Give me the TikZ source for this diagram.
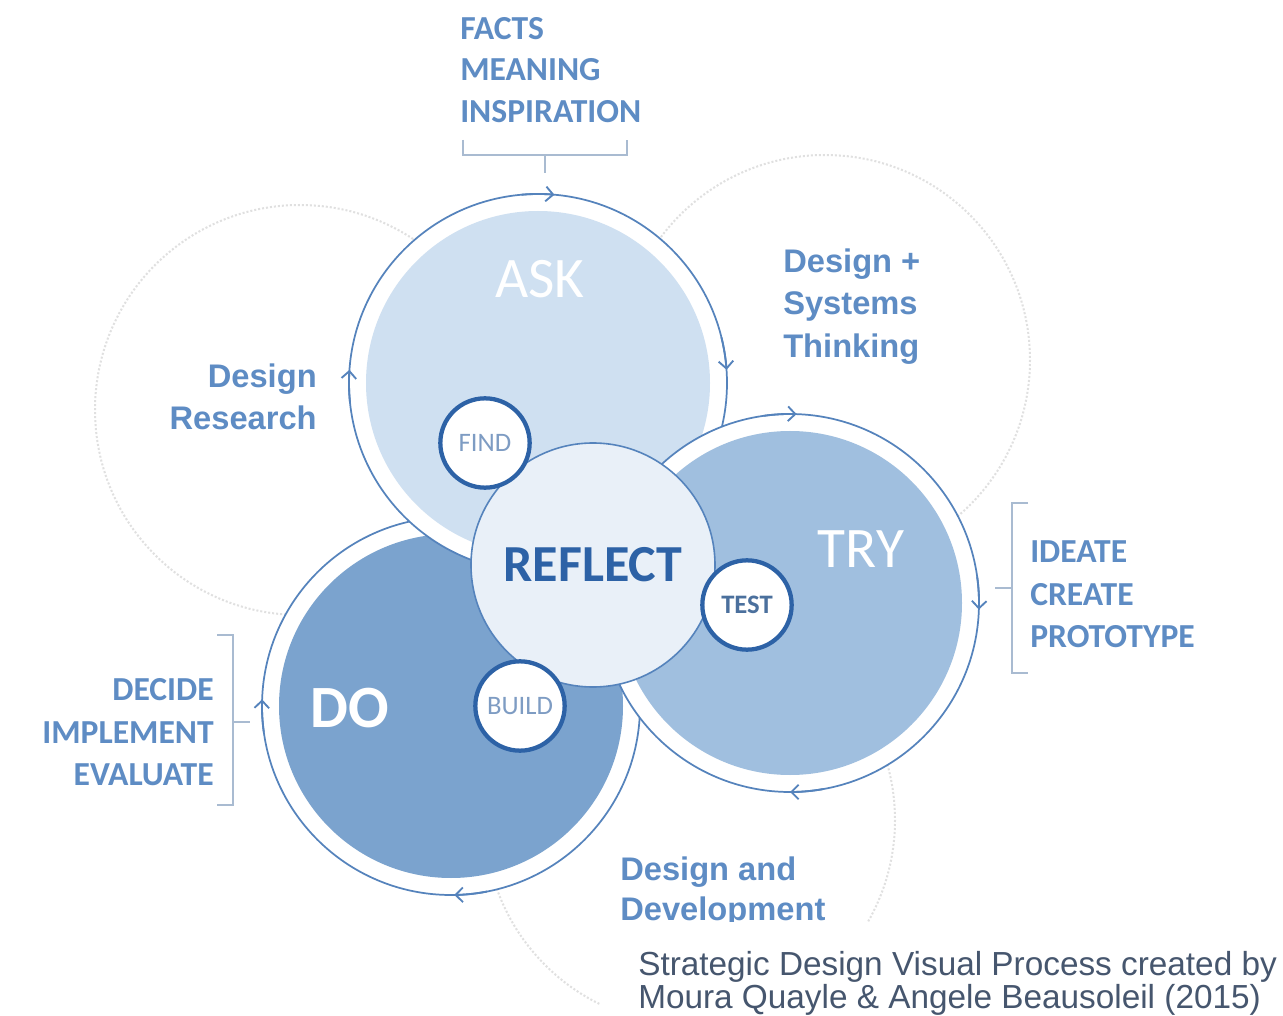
\documentclass[tikz,border=0pt]{standalone}
\usepackage{fontspec}
\setmainfont{Carlito}
\newfontfamily\arialf{Liberation Sans}
\usetikzlibrary{arrows.meta}
\definecolor{askc}{HTML}{CFE0F1}
\definecolor{tryc}{HTML}{A0BFDF}
\definecolor{doc}{HTML}{7BA3CE}
\definecolor{refc}{HTML}{E9F0F8}
\definecolor{ringc}{HTML}{5583BC}
\definecolor{labc}{HTML}{5E8CC4}
\definecolor{brac}{HTML}{A9BBD1}
\definecolor{darkb}{HTML}{2D62A6}
\definecolor{smallt}{HTML}{7E9CC3}
\definecolor{faintg}{HTML}{E0E0E0}
\definecolor{capc}{HTML}{46566E}
\begin{document}
\begin{tikzpicture}[x=0.75pt,y=-0.75pt,
  faintc/.style={draw=faintg, line width=1.5pt, dash pattern=on 1.5pt off 1.5pt},
  ring/.style={draw=ringc, line width=1.3pt},
  arr/.style={ringc, line width=1.4pt, -{Straight Barb[length=5.5pt,width=11pt]}},
  halo/.style={fill=white},
  smallc/.style={circle, draw=darkb, line width=3.2pt, fill=white, minimum size=67pt, inner sep=0pt, text=smallt, font=\fontsize{20}{20}\selectfont},
  refl/.style={circle, draw=ringc, line width=1.2pt, fill=refc, minimum size=183pt, inner sep=0pt, text=darkb, font=\bfseries\fontsize{39}{39}\selectfont},
  big/.style={text=white, inner sep=0pt, font=\fontsize{43}{43}\selectfont},
  lab/.style={text=labc, inner sep=0pt, font=\bfseries\fontsize{25.2}{25.2}\selectfont},
  dlab/.style={text=labc, inner sep=0pt, font=\arialf\bfseries\fontsize{24.5}{24.5}\selectfont},
  captxt/.style={text=capc, inner sep=0pt, font=\arialf\fontsize{25}{25}\selectfont},
  brk/.style={draw=brac, line width=1.5pt}]
\useasboundingbox (0,0) rectangle (1283,1016);
\fill[white] (0,0) rectangle (1283,1016);
% faint background circles
\draw[faintc] (300,410) circle[radius=205];
\draw[faintc] (825,360) circle[radius=205];
\draw[faintc] (690,820) circle[radius=205];
% DO
\fill[halo] (451,706) circle[radius=189];
\fill[doc] (451,706) circle[radius=172];
\draw[ring] (451,706) circle[radius=189];
\draw[arr] ([shift={(79:189)}]451,706) arc[start angle=79, end angle=89, radius=189];
\draw[arr] ([shift={(172:189)}]451,706) arc[start angle=172, end angle=182, radius=189];
% ASK
\fill[halo] (538,383) circle[radius=189];
\fill[askc] (538,383) circle[radius=172];
\draw[ring] (538,383) circle[radius=189];
\draw[arr] ([shift={(-95:189)}]538,383) arc[start angle=-95, end angle=-85, radius=189];
\draw[arr] ([shift={(-14:189)}]538,383) arc[start angle=-14, end angle=-4, radius=189];
\draw[arr] ([shift={(174:189)}]538,383) arc[start angle=174, end angle=184, radius=189];
% TRY
\fill[halo] (790,603) circle[radius=189];
\fill[tryc] (790,603) circle[radius=172];
\draw[ring] (790,603) circle[radius=189];
\draw[arr] ([shift={(-98:189)}]790,603) arc[start angle=-98, end angle=-88, radius=189];
\draw[arr] ([shift={(-8:189)}]790,603) arc[start angle=-8, end angle=2, radius=189];
\draw[arr] ([shift={(80:189)}]790,603) arc[start angle=80, end angle=90, radius=189];
% big labels
\node[big, anchor=base] (ask) at (540,298) {ASK};
\node[big, anchor=base] (try) at (861,567) {TRY};
\node[big, anchor=base, font=\bfseries\fontsize{45}{45}\selectfont] (do) at (350,727) {DO};
% reflect and small circles
\node[refl] (reflect) at (593,565) {REFLECT};
\node[smallc] (find) at (485,443) {FIND};
\node[smallc, font=\bfseries\fontsize{20}{20}\selectfont, text=labc!80!black] (test) at (747,605) {TEST};
\node[smallc] (build) at (520,706) {BUILD};
% top bracket and labels
\node[lab, anchor=base west] (t1) at (460,40) {FACTS};
\node[lab, anchor=base west] (t2) at (460,81) {MEANING};
\node[lab, anchor=base west] (t3) at (460,123) {INSPIRATION};
\draw[brk] (463,140) -- (463,155) -- (627,155) -- (627,140);
\draw[brk] (545,155) -- (545,173);
% right top label
\node[dlab, anchor=base west] (s1) at (783,273) {Design +};
\node[dlab, anchor=base west] (s2) at (783,315) {Systems};
\node[dlab, anchor=base west] (s3) at (783,358) {Thinking};
% left label
\node[dlab, anchor=base east] (r1) at (317,388) {Design};
\node[dlab, anchor=base east] (r2) at (317,430) {Research};
% right bracket
\node[lab, anchor=base west] (i1) at (1030,562) {IDEATE};
\node[lab, anchor=base west] (i2) at (1030,605) {CREATE};
\node[lab, anchor=base west] (i3) at (1030,647) {PROTOTYPE};
\draw[brk] (1028,503) -- (1012,503) -- (1012,673) -- (1028,673);
\draw[brk] (1012,588) -- (995,588);
% left bracket
\node[lab, anchor=base east] (d1) at (214,700) {DECIDE};
\node[lab, anchor=base east] (d2) at (214,743) {IMPLEMENT};
\node[lab, anchor=base east] (d3) at (214,785) {EVALUATE};
\draw[brk] (217,635) -- (233,635) -- (233,805) -- (217,805);
\draw[brk] (233,722) -- (250,722);
% bottom label
\node[dlab, anchor=base west] (b1) at (620,880) {Design and};
\node[dlab, anchor=base west] (b2) at (620,920) {Development};
% caption
\fill[white] (600,922) rectangle (1283,1016);
\node[captxt, anchor=base west] (c1) at (638,975) {Strategic Design Visual Process created by};
\node[captxt, anchor=base west] (c2) at (638,1008) {Moura Quayle \& Angele Beausoleil (2015)};
\end{tikzpicture}
\end{document}
